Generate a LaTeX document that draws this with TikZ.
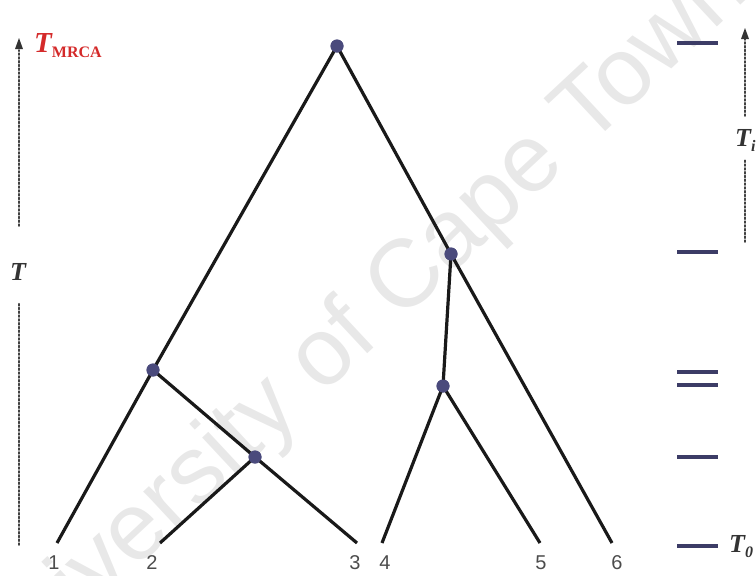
\documentclass[tikz,border=0pt]{standalone}
\usepackage{fontspec}
\setmainfont{Liberation Serif}
\newfontfamily\leaffont{Liberation Sans}
\definecolor{nodeblue}{HTML}{4A4A7C}
\definecolor{tickblue}{HTML}{3C3C66}
\definecolor{mrcared}{HTML}{D42A2A}
\newcommand{\subsm}[1]{\raisebox{-5pt}{\fontsize{16}{16}\selectfont #1}}
\begin{document}
\begin{tikzpicture}[x=1pt,y=-1pt,
  branch/.style={line width=3.2pt, black!90},
  dotnode/.style={circle, fill=nodeblue, inner sep=0pt, minimum size=13pt},
  leaflabel/.style={font=\leaffont\fontsize{20}{20}\selectfont, text=black!70, inner sep=0pt},
  tick/.style={line width=3.4pt, tickblue},
  timelabel/.style={font=\bfseries\itshape\fontsize{26}{26}\selectfont, text=black!80, inner sep=0pt},
  dotline/.style={line width=1.8pt, black!75, dotted, line cap=round},
  watermark/.style={rotate=43, text=black!9, inner sep=0pt, font=\leaffont\fontsize{96}{96}\selectfont}]
\useasboundingbox (0,0) rectangle (756,576);
\begin{scope}
\clip (0,0) rectangle (756,576);
\node[watermark] (wm) at (356,330) {University of Cape Town};
\end{scope}
% nodes
\node[dotnode] (root) at (337,46) {};
\node[dotnode] (a) at (153,370) {};
\node[dotnode] (b) at (255,457) {};
\node[dotnode] (c) at (451,254) {};
\node[dotnode] (d) at (443,386) {};
\coordinate (l1) at (57,543);
\coordinate (l2) at (160,543);
\coordinate (l3) at (357,543);
\coordinate (l4) at (382,543);
\coordinate (l5) at (540,543);
\coordinate (l6) at (612,543);
% branches
\draw[branch] (root.center) -- (a.center);
\draw[branch] (root.center) -- (c.center);
\draw[branch] (a.center) -- (l1);
\draw[branch] (a.center) -- (b.center);
\draw[branch] (b.center) -- (l3);
\draw[branch] (b.center) -- (l2);
\draw[branch] (c.center) -- (d.center);
\draw[branch] (c.center) -- (l6);
\draw[branch] (d.center) -- (l4);
\draw[branch] (d.center) -- (l5);
% redraw dots on top
\foreach \n in {root,a,b,c,d} \fill[nodeblue] (\n) circle (6.5pt);
% leaf labels
\node[leaflabel] (t1) at (54,563) {1};
\node[leaflabel] (t2) at (152,563) {2};
\node[leaflabel] (t3) at (355,563) {3};
\node[leaflabel] (t4) at (385,563) {4};
\node[leaflabel] (t5) at (541,563) {5};
\node[leaflabel] (t6) at (617,563) {6};
% right ticks
\foreach \y/\nm in {43/k1,252/k2,372/k3,385/k4,457/k5,546/k6} {
  \coordinate (\nm a) at (677,\y);
  \coordinate (\nm b) at (718,\y);
  \draw[tick] (\nm a) -- (\nm b);
}
\node[timelabel, anchor=west] (T0) at (729,547) {T\subsm{0}};
\node[timelabel, anchor=west] (Ti) at (735,140) {T\subsm{i}};
\coordinate (tia) at (745,242);
\coordinate (tib) at (745,160);
\coordinate (tic) at (745,116);
\coordinate (tid) at (745,38);
\draw[dotline] (tia) -- (tib);
\draw[dotline] (tic) -- (tid);
\fill[black!80] (745,28) -- (741,39) -- (749,39) -- cycle;
% left time axis
\node[timelabel] (T) at (18,272) {T};
\coordinate (ta) at (19,545);
\coordinate (tb) at (19,303);
\coordinate (tc) at (19,226);
\coordinate (td) at (19,50);
\draw[dotline] (ta) -- (tb);
\draw[dotline] (tc) -- (td);
\fill[black!80] (19,38) -- (15,49) -- (23,49) -- cycle;
\node[anchor=west, inner sep=0pt, text=mrcared, font=\bfseries] (mrca) at (34,46) {\fontsize{29}{29}\selectfont\itshape T\raisebox{-5pt}{\upshape\fontsize{16}{16}\selectfont MRCA}};
\end{tikzpicture}
\end{document}
